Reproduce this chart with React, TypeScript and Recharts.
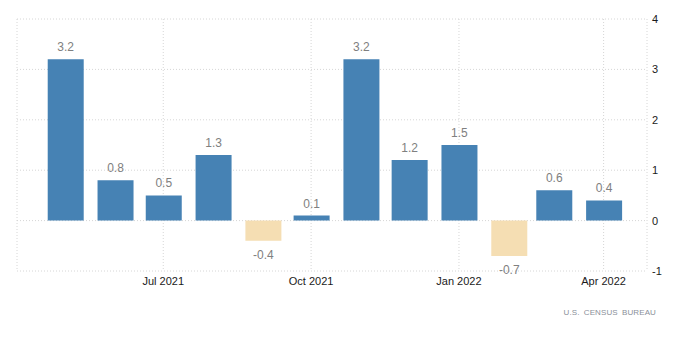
import React from "react";
import {
  BarChart,
  Bar,
  XAxis,
  YAxis,
  CartesianGrid,
  Cell,
  LabelList,
} from "recharts";

const months = [
  "2021-05", "2021-06", "2021-07", "2021-08", "2021-09", "2021-10",
  "2021-11", "2021-12", "2022-01", "2022-02", "2022-03", "2022-04",
];
const values = [3.2, 0.8, 0.5, 1.3, -0.4, 0.1, 3.2, 1.2, 1.5, -0.7, 0.6, 0.4];
const tickMonths = ["2021-07", "2021-10", "2022-01", "2022-04"];
const tickLabels = ["Jul 2021", "Oct 2021", "Jan 2022", "Apr 2022"];
const yTicks = [-1, 0, 1, 2, 3, 4];

// days since May 1 2021, so the x axis follows real month lengths
const dayOf = (ym: string, d = 1) => {
  const [y, m] = ym.split("-").map(Number);
  return (Date.UTC(y, m - 1, d) - Date.UTC(2021, 4, 1)) / 86400000;
};

const data = months.map((m, i) => ({ x: dayOf(m), value: values[i] }));
const xTicks = tickMonths.map((m) => dayOf(m));
const xDomain = [dayOf("2021-04", 1), dayOf("2022-04", 28)];

const BLUE = "#4682b4";
const WHEAT = "#f5deb3";
const FONT = "Liberation Sans, Arial, sans-serif";

const renderLabel = (props: any) => {
  const { x, y, width, height, value } = props;
  const top = Math.min(y, y + height);
  const bottom = Math.max(y, y + height);
  const cx = x + width / 2;
  const ty = value >= 0 ? top - 8 : bottom + 18;
  return (
    <text x={cx} y={ty} textAnchor="middle" fill="#808080" fontSize={12} fontFamily={FONT}>
      {value.toFixed(1)}
    </text>
  );
};

const App: React.FC = () => {
  return (
    <div
      style={{
        position: "absolute",
        left: 0,
        top: 0,
        width: 700,
        height: 358,
        background: "#fff",
      }}
    >
      <BarChart
        width={700}
        height={358}
        data={data}
        margin={{ top: 19, right: 0, bottom: 57, left: 17 }}
      >
        <CartesianGrid stroke="#d6d6d6" strokeDasharray="1 2" />
        <XAxis
          dataKey="x"
          type="number"
          domain={xDomain}
          allowDataOverflow
          ticks={xTicks}
          tickFormatter={(v: number) => tickLabels[xTicks.indexOf(v)] ?? ""}
          axisLine={false}
          tickLine={false}
          tickSize={0}
          tickMargin={6}
          height={30}
          tick={{ fill: "#1a1a1a", fontSize: 11, fontFamily: FONT }}
        />
        <YAxis
          orientation="right"
          domain={[-1, 4]}
          ticks={yTicks}
          axisLine={false}
          tickLine={false}
          tickSize={0}
          tickMargin={5}
          width={53}
          tick={{ fill: "#1a1a1a", fontSize: 11, fontFamily: FONT }}
        />
        <Bar dataKey="value" barSize={36} isAnimationActive={false}>
          {data.map((d, i) => (
            <Cell key={i} fill={d.value >= 0 ? BLUE : WHEAT} />
          ))}
          <LabelList dataKey="value" content={renderLabel} />
        </Bar>
      </BarChart>
      <div
        style={{
          position: "absolute",
          right: 44,
          top: 308,
          fontFamily: FONT,
          fontSize: 8,
          letterSpacing: 0.1,
          wordSpacing: 2,
          color: "#8a8f99",
        }}
      >
        U.S. CENSUS BUREAU
      </div>
    </div>
  );
};

export default App;
